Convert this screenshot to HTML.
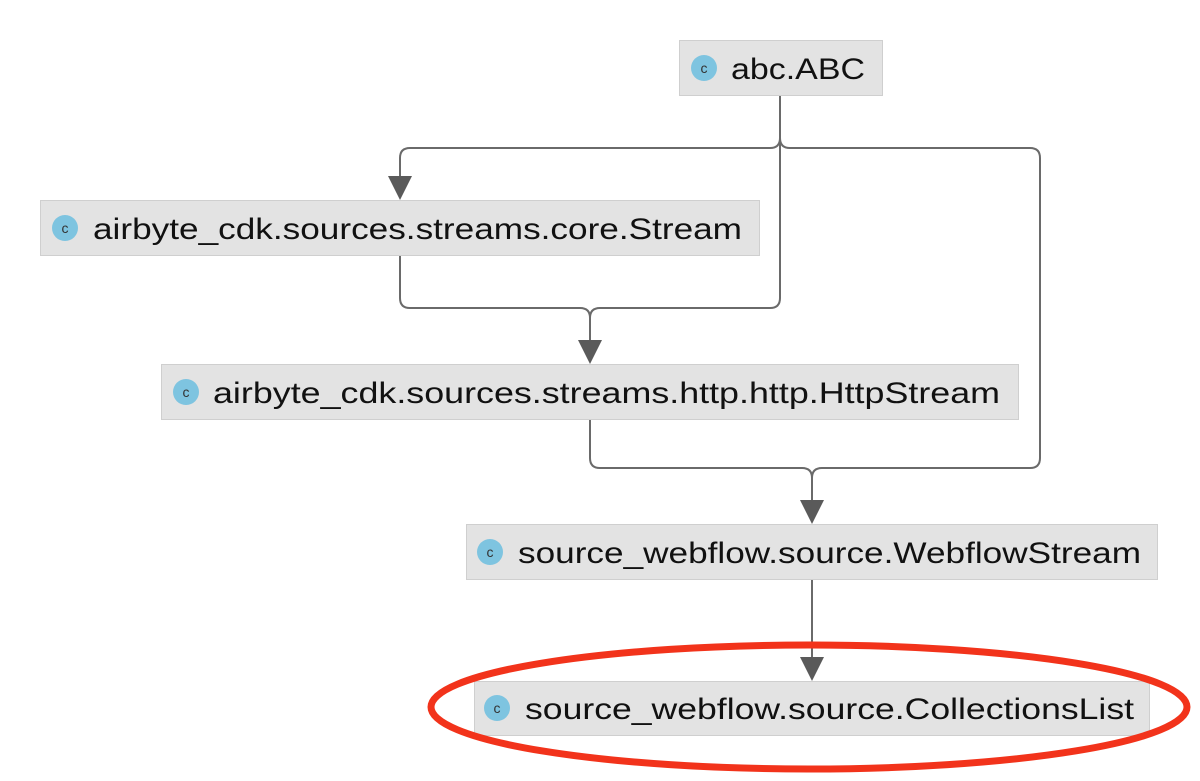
<!DOCTYPE html>
<html><head><style>html,body{margin:0;padding:0;background:#fff;}</style></head>
<body>
<svg width="1200" height="776" xmlns="http://www.w3.org/2000/svg" font-family="Liberation Sans, sans-serif">
<g fill="none" stroke="#6a6a6a" stroke-width="2">
<path d="M780 95 V138 Q780 148 770 148 H410 Q400 148 400 158 V180"/>
<path d="M780 95 V138 Q780 148 790 148 H1030 Q1040 148 1040 158 V458 Q1040 468 1030 468 H822 Q812 468 812 478 V504"/>
<path d="M780 95 V298 Q780 308 770 308 H600 Q590 308 590 318 V344"/>
<path d="M400 255 V298 Q400 308 410 308 H580 Q590 308 590 318"/>
<path d="M590 419 V458 Q590 468 600 468 H802 Q812 468 812 478"/>
<path d="M812 579 V661"/>
</g>
<g fill="#5a5a5a">
<path d="M388 176 H412 L400 200 Z"/>
<path d="M578 340 H602 L590 364 Z"/>
<path d="M800 500 H824 L812 524 Z"/>
<path d="M800 657 H824 L812 681 Z"/>
</g>
<g font-size="30" fill="#111">
<rect x="679.5" y="40.5" width="203" height="55" fill="#e3e3e3" stroke="#cfcfcf"/>
<circle cx="704" cy="68" r="13" fill="#7ec4e0"/><text x="704" y="73" font-size="14" text-anchor="middle" fill="#333">c</text>
<text x="731" y="79" textLength="134" lengthAdjust="spacingAndGlyphs">abc.ABC</text>

<rect x="40.5" y="200.5" width="719" height="55" fill="#e3e3e3" stroke="#cfcfcf"/>
<circle cx="65" cy="228" r="13" fill="#7ec4e0"/><text x="65" y="233" font-size="14" text-anchor="middle" fill="#333">c</text>
<text x="93" y="239" textLength="649" lengthAdjust="spacingAndGlyphs">airbyte_cdk.sources.streams.core.Stream</text>

<rect x="161.5" y="364.5" width="857" height="55" fill="#e3e3e3" stroke="#cfcfcf"/>
<circle cx="186" cy="392" r="13" fill="#7ec4e0"/><text x="186" y="397" font-size="14" text-anchor="middle" fill="#333">c</text>
<text x="213" y="403" textLength="787" lengthAdjust="spacingAndGlyphs">airbyte_cdk.sources.streams.http.http.HttpStream</text>

<rect x="466.5" y="524.5" width="691" height="55" fill="#e3e3e3" stroke="#cfcfcf"/>
<circle cx="490" cy="552" r="13" fill="#7ec4e0"/><text x="490" y="557" font-size="14" text-anchor="middle" fill="#333">c</text>
<text x="518" y="563" textLength="623" lengthAdjust="spacingAndGlyphs">source_webflow.source.WebflowStream</text>

<rect x="474.5" y="681.5" width="675" height="54" fill="#e3e3e3" stroke="#cfcfcf"/>
<circle cx="497" cy="708" r="13" fill="#7ec4e0"/><text x="497" y="713" font-size="14" text-anchor="middle" fill="#333">c</text>
<text x="525" y="719" textLength="609" lengthAdjust="spacingAndGlyphs">source_webflow.source.CollectionsList</text>
</g>
<ellipse cx="809" cy="707" rx="378" ry="62" fill="none" stroke="#f2331b" stroke-width="7"/>
</svg>
</body></html>
